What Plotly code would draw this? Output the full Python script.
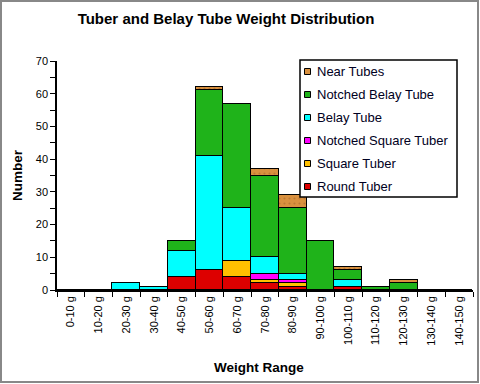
import plotly.graph_objects as go

categories = ["0-10 g", "10-20 g", "20-30 g", "30-40 g", "40-50 g", "50-60 g", "60-70 g",
              "70-80 g", "80-90 g", "90-100 g", "100-110 g", "110-120 g", "120-130 g",
              "130-140 g", "140-150 g"]

round_tuber = [0, 0, 0, 0, 4, 6, 4, 2, 1, 0, 1, 0, 0, 0, 0]
square_tuber = [0, 0, 0, 0, 0, 0, 5, 1, 1, 0, 0, 0, 0, 0, 0]
notched_square_tuber = [0, 0, 0, 0, 0, 0, 0, 2, 1, 0, 0, 0, 0, 0, 0]
belay_tube = [0, 0, 2, 1, 8, 35, 16, 5, 2, 0, 2, 0, 0, 0, 0]
notched_belay_tube = [0, 0, 0, 0, 3, 20, 32, 25, 20, 15, 3, 1, 2, 0, 0]
near_tubes = [0, 0, 0, 0, 0, 1, 0, 2, 4, 0, 1, 0, 1, 0, 0]

series = [
    ("Round Tuber", round_tuber, "#DD0000", None),
    ("Square Tuber", square_tuber, "#FFC000", None),
    ("Notched Square Tuber", notched_square_tuber, "#FF00FF", None),
    ("Belay Tube", belay_tube, "#00FFFF", None),
    ("Notched Belay Tube", notched_belay_tube, "#1FB31A", None),
    ("Near Tubes", near_tubes, "#D9913F", "."),
]

W, H = 480, 384
ml, mr, mt, mb = 57, 7, 61, 94
pw, ph = W - ml - mr, H - mt - mb


def px_x(px):
    return (px - ml) / pw


def px_y(py):
    return (mt + ph - py) / ph


fig = go.Figure()
for name, vals, color, pat in series:
    marker = dict(color=color, line=dict(color="black", width=1.3))
    if pat:
        marker["pattern"] = dict(shape=pat, fgcolor="#A0602A", bgcolor=color, size=5, solidity=0.15)
    fig.add_trace(go.Bar(name=name, x=categories, y=vals, marker=marker, showlegend=False))

# manual legend (box, swatches, labels), top entry = last series
shapes = [
    dict(type="rect", xref="paper", yref="paper",
         x0=px_x(1), x1=px_x(W - 2), y0=px_y(H - 2), y1=px_y(1),
         line=dict(color="#888888", width=2), layer="below"),
    dict(type="rect", xref="paper", yref="paper",
         x0=px_x(300), x1=px_x(457), y0=px_y(197), y1=px_y(60),
         line=dict(color="black", width=1.5), fillcolor="white", layer="above"),
]
annotations = [
    dict(text="<b>Weight Range</b>", xref="paper", yref="paper",
         x=px_x(259), y=px_y(367), xanchor="center", yanchor="middle",
         showarrow=False, font=dict(size=13.5)),
    dict(text="<b>Number</b>", xref="paper", yref="paper", textangle=-90,
         x=px_x(17), y=px_y(175), xanchor="center", yanchor="middle",
         showarrow=False, font=dict(size=13.5)),
]
for k, (name, vals, color, pat) in enumerate(reversed(series)):
    cy = 71.5 + 23 * k
    shapes.append(dict(type="rect", xref="paper", yref="paper",
                       x0=px_x(304.5), x1=px_x(310.5), y0=px_y(cy + 3), y1=px_y(cy - 3),
                       line=dict(color="black", width=1), fillcolor=color, layer="above"))
    annotations.append(dict(text=name, xref="paper", yref="paper",
                            x=px_x(315), y=px_y(cy), xanchor="left", yanchor="middle",
                            showarrow=False, font=dict(size=13, color="#000022")))

fig.update_layout(
    width=W, height=H,
    margin=dict(l=ml, r=mr, t=mt, b=mb, autoexpand=False),
    barmode="stack", bargap=0,
    paper_bgcolor="white", plot_bgcolor="white",
    font=dict(family="Liberation Sans, Arial, sans-serif", size=11, color="black"),
    title=dict(text="<b>Tuber and Belay Tube Weight Distribution</b>",
               x=226 / W, xanchor="center", y=1 - 19 / H, yanchor="middle",
               font=dict(size=15, color="black")),
    showlegend=False,
    xaxis=dict(type="category", tickangle=-90, showline=True, linecolor="black", linewidth=1.5,
               ticks="outside", ticklen=5, tickcolor="black", tickson="boundaries",
               showgrid=False, tickfont=dict(size=11), automargin=False),
    yaxis=dict(range=[0, 70], dtick=10, showline=True, linecolor="black", linewidth=1.5,
               ticks="outside", ticklen=5, tickcolor="black", showgrid=False, zeroline=False,
               minor=dict(dtick=5, ticks="outside", ticklen=5, tickcolor="black"),
               tickfont=dict(size=11), automargin=False),
    annotations=annotations,
    shapes=shapes,
)

fig.write_html("out.html", config={"displayModeBar": False},
               post_script="document.body.style.margin='0';")
